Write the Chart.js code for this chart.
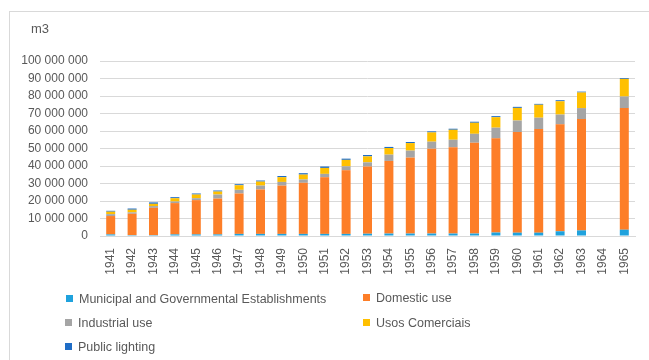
<!DOCTYPE html>
<html>
<head>
<meta charset="utf-8">
<script src="https://cdn.jsdelivr.net/npm/chart.js@4.4.1/dist/chart.umd.min.js"></script>
<style>
  html, body { margin: 0; padding: 0; background: #fff; }
  body { width: 649px; height: 360px; position: relative; overflow: hidden;
         font-family: "Liberation Sans", Arial, sans-serif; color: #595959; }
  #frame { position: absolute; left: 9px; top: 11px; width: 700px; height: 400px;
           border-top: 1px solid #d9d9d9; border-left: 1px solid #d9d9d9; }
  #wrap { position: absolute; left: 0; top: 0; width: 649px; height: 360px; }
  #unit { position: absolute; left: 31px; top: 21px; font-size: 13px; }
  .leg { position: absolute; font-size: 12.5px; line-height: 14px; white-space: nowrap; }
  .leg i { display: inline-block; width: 7px; height: 7px; margin-right: 6px; vertical-align: 1px; }
</style>
</head>
<body>
<div id="frame"></div>
<div id="wrap"><canvas id="chart" width="649" height="360"></canvas></div>
<div id="unit">m3</div>
<div id="legend"></div>
<script>
// --- Data (millions m3, scaled below) ---
const years = ["1941","1942","1943","1944","1945","1946","1947","1948","1949","1950","1951","1952","1953",
               "1954","1955","1956","1957","1958","1959","1960","1961","1962","1963","1964","1965"];

const municipal  = [0.9, 0.5, 0.5, 0.9, 0.9, 0.9, 1.2, 1.2, 1.2, 1.2, 1.2, 1.2, 1.3, 1.4, 1.4, 1.4, 1.4, 1.4, 2.0, 1.9, 1.9, 2.7, 3.2, null, 3.6];
const domestic   = [10.5, 12.2, 15.6, 17.9, 19.6, 20.5, 23.1, 25.4, 27.6, 29.2, 32.4, 36.4, 38.4, 41.5, 43.4, 48.5, 49.3, 51.9, 53.8, 57.5, 59.2, 61.1, 63.6, null, 69.5];
const industrial = [1.1, 0.8, 1.0, 0.9, 1.1, 2.3, 2.1, 2.2, 2.1, 1.9, 1.9, 2.2, 2.4, 3.6, 4.0, 4.0, 4.3, 5.1, 6.1, 6.6, 6.5, 5.6, 6.3, null, 6.6];
const commercial = [1.4, 1.5, 1.3, 1.9, 2.1, 1.7, 2.6, 2.3, 2.7, 2.8, 3.4, 3.7, 3.4, 3.8, 4.3, 5.3, 5.7, 6.3, 6.0, 7.2, 7.4, 7.6, 8.9, null, 10.1];
const lighting   = [0.5, 0.7, 0.8, 0.6, 0.6, 0.6, 0.6, 0.6, 0.7, 0.8, 0.8, 0.7, 0.8, 0.6, 0.6, 0.6, 0.6, 0.6, 0.6, 0.6, 0.5, 0.6, 0.5, null, 0.5];

const yTicks = [0, 10, 20, 30, 40, 50, 60, 70, 80, 90, 100]; // millions

const series = [
  { label: "Municipal and Governmental Establishments", data: municipal,  color: "#1fa2dd" },
  { label: "Domestic use",                              data: domestic,   color: "#fd7e28" },
  { label: "Industrial use",                            data: industrial, color: "#a5a5a5" },
  { label: "Usos Comerciais",                           data: commercial, color: "#ffc000" },
  { label: "Public lighting",                           data: lighting,   color: "#1f6dc6" }
];

const M = 1000000;
const fmt = v => String(Math.round(v)).replace(/\B(?=(\d{3})+(?!\d))/g, " ");

Chart.defaults.font.family = '"Liberation Sans", Arial, sans-serif';
Chart.defaults.font.size = 12;
Chart.defaults.color = "#595959";

new Chart(document.getElementById("chart"), {
  type: "bar",
  data: {
    labels: years,
    datasets: series.map(s => ({
      label: s.label,
      data: s.data.map(v => v === null ? null : v * M),
      backgroundColor: s.color,
      borderWidth: 0,
      categoryPercentage: 1,
      barPercentage: 0.42
    }))
  },
  options: {
    responsive: false,
    animation: false,
    layout: { padding: { top: 61, right: 14, left: 0, bottom: 0 } },
    plugins: { legend: { display: false }, tooltip: { enabled: false } },
    scales: {
      x: {
        stacked: true,
        grid: { display: false },
        border: { color: "#d9d9d9" },
        ticks: { minRotation: 90, maxRotation: 90, autoSkip: false, padding: 4 },
        afterFit: s => { s.height = 124; }
      },
      y: {
        stacked: true,
        min: 0,
        max: yTicks[yTicks.length - 1] * M,
        afterBuildTicks: s => { s.ticks = yTicks.map(v => ({ value: v * M })); },
        grid: { color: "#d9d9d9", drawTicks: false },
        border: { display: false },
        ticks: { padding: 12, callback: v => fmt(v) },
        afterFit: s => { s.width = 100; }
      }
    }
  }
});

// --- Legend (two columns, Excel style) ---
const legendPos = [
  { left: 66, top: 292 }, { left: 363, top: 291 },
  { left: 65, top: 316 }, { left: 363, top: 316 },
  { left: 65, top: 340 }
];
const legend = document.getElementById("legend");
series.forEach((s, i) => {
  const d = document.createElement("div");
  d.className = "leg";
  d.style.left = legendPos[i].left + "px";
  d.style.top = legendPos[i].top + "px";
  d.innerHTML = `<i style="background:${s.color}"></i>${s.label}`;
  legend.appendChild(d);
});
</script>
</body>
</html>
